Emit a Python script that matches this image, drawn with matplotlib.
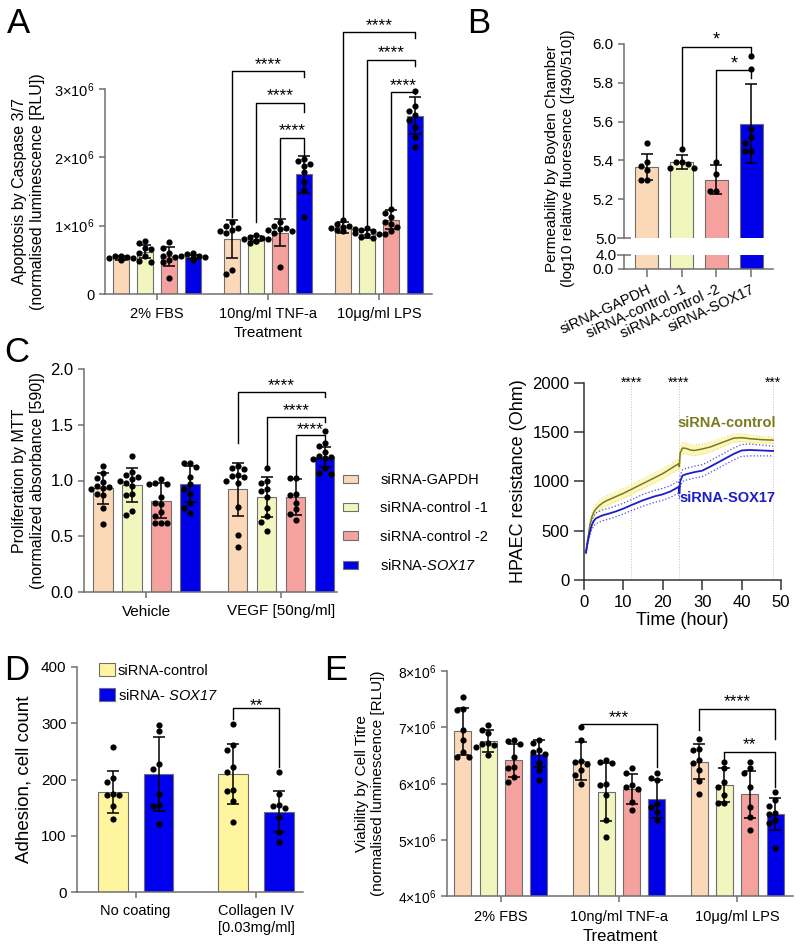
import numpy as np
import matplotlib
matplotlib.use('Agg')
import matplotlib.pyplot as plt
from matplotlib.patches import Patch

plt.rcParams['font.family'] = ['Liberation Sans', 'DejaVu Sans']
plt.rcParams['mathtext.fontset'] = 'custom'
plt.rcParams['mathtext.rm'] = 'Liberation Sans'
plt.rcParams['mathtext.it'] = 'Liberation Sans:italic'
plt.rcParams['mathtext.sf'] = 'Liberation Sans:italic'
plt.rcParams['mathtext.bf'] = 'Liberation Sans:bold'

# ---------------- data ----------------
sirna_labels = ['siRNA-GAPDH', 'siRNA-control -1', 'siRNA-control -2', 'siRNA-SOX17']
treatments = ['2% FBS', '10ng/ml TNF-a', '10\u03bcg/ml LPS']

# Panel A: apoptosis (x10^6 RLU) [treatment][siRNA]
A_mean = [[0.53, 0.62, 0.55, 0.54],
          [0.80, 0.81, 0.90, 1.75],
          [0.98, 0.88, 1.09, 2.61]]
A_sd = [[0.03, 0.10, 0.14, 0.03],
        [0.28, 0.04, 0.20, 0.27],
        [0.08, 0.06, 0.14, 0.27]]
A_points = [
    [[0.50, 0.51, 0.52, 0.53, 0.53, 0.54, 0.55, 0.56],
     [0.78, 0.74, 0.68, 0.66, 0.60, 0.55, 0.48, 0.47],
     [0.76, 0.68, 0.60, 0.56, 0.54, 0.50, 0.47, 0.24],
     [0.50, 0.52, 0.53, 0.54, 0.55, 0.56, 0.58, 0.60]],
    [[1.05, 0.99, 0.97, 0.94, 0.92, 0.90, 0.35, 0.30],
     [0.75, 0.77, 0.78, 0.80, 0.80, 0.82, 0.84, 0.86],
     [1.05, 1.00, 0.97, 0.95, 0.93, 0.92, 0.90, 0.40],
     [1.98, 1.95, 1.90, 1.88, 1.78, 1.64, 1.52, 1.13]],
    [[0.92, 0.94, 0.95, 0.96, 0.98, 1.00, 1.03, 1.08],
     [0.82, 0.84, 0.86, 0.88, 0.90, 0.92, 0.94, 0.96],
     [0.88, 0.92, 0.98, 1.02, 1.06, 1.12, 1.18, 1.25],
     [2.97, 2.75, 2.68, 2.62, 2.55, 2.45, 2.30, 2.15]]]
# (treatment, from, to, line y, left end, right end, label)
A_brackets = [(1, 0, 3, 3.26, 1.12, 3.17, '****'),
              (1, 1, 3, 2.80, 1.05, 2.66, '****'),
              (1, 2, 3, 2.29, 1.13, 2.02, '****'),
              (2, 0, 3, 3.83, 1.10, 3.75, '****'),
              (2, 1, 3, 3.43, 0.99, 3.33, '****'),
              (2, 2, 3, 2.96, 1.28, 2.93, '****')]

# Panel B: permeability (log10 RFU)
B_mean = [5.366, 5.39, 5.30, 5.59]
B_sd = [0.067, 0.036, 0.074, 0.205]
B_points = [[5.49, 5.39, 5.37, 5.35, 5.30, 5.30],
            [5.46, 5.39, 5.39, 5.38, 5.36, 5.36],
            [5.39, 5.33, 5.24, 5.24],
            [5.94, 5.87, 5.56, 5.52, 5.49, 5.45, 5.45]]
B_brackets = [(1, 3, 5.985, 5.47, 5.945, '*'),
              (2, 3, 5.865, 5.40, 5.825, '*')]

# Panel C (left): proliferation by MTT [treatment][siRNA]
C_treat = ['Vehicle', 'VEGF [50ng/ml]']
C_mean = [[0.93, 0.96, 0.82, 0.97],
          [0.92, 0.85, 0.85, 1.21]]
C_sd = [[0.14, 0.15, 0.16, 0.16],
        [0.24, 0.18, 0.16, 0.09]]
C_points = [
    [[1.13, 1.07, 1.02, 0.99, 0.95, 0.94, 0.93, 0.92, 0.88, 0.87, 0.75, 0.61],
     [1.22, 1.08, 1.05, 1.03, 1.01, 1.00, 0.98, 0.95, 0.88, 0.87, 0.73, 0.69],
     [1.01, 0.98, 0.97, 0.97, 0.85, 0.80, 0.79, 0.72, 0.68, 0.62, 0.62, 0.62],
     [1.16, 1.16, 1.12, 1.03, 0.97, 0.92, 0.88, 0.80, 0.75, 0.71]],
    [[1.13, 1.11, 1.10, 1.05, 1.04, 1.03, 1.00, 0.98, 0.76, 0.51, 0.40],
     [1.11, 1.00, 0.98, 0.92, 0.91, 0.85, 0.75, 0.68, 0.63, 0.55],
     [1.02, 1.02, 0.88, 0.87, 0.80, 0.74, 0.70, 0.65],
     [1.44, 1.34, 1.31, 1.26, 1.22, 1.21, 1.20, 1.19, 1.11, 1.07, 1.06]]]
C_brackets = [(1, 0, 3, 1.795, 1.335, 1.745, '****'),
              (1, 1, 3, 1.573, 1.125, 1.528, '****'),
              (1, 2, 3, 1.406, 1.036, 1.34, '****')]

# Panel C (right): HPAEC resistance (Ohm) over time
time_h = [0.5, 1, 1.5, 2, 2.5, 3, 4, 5, 6, 8, 10, 12, 15, 18, 20, 22, 24, 24.2, 24.4,
          25, 26, 27, 28, 30, 32, 35, 38, 40, 42, 45, 48]
ctrl_mean = [280, 420, 560, 640, 690, 720, 760, 790, 810, 845, 880, 920, 980, 1040, 1080,
             1130, 1180, 1150, 1290, 1340, 1335, 1320, 1315, 1330, 1350, 1395, 1440, 1445,
             1435, 1425, 1420]
ctrl_sem = [15, 25, 35, 45, 50, 50, 50, 50, 50, 50, 50, 50, 50, 50, 50, 50, 50, 50, 55,
            55, 55, 55, 55, 50, 50, 45, 40, 40, 40, 35, 35]
sox_mean = [280, 400, 490, 560, 600, 625, 645, 660, 670, 695, 725, 760, 810, 850, 870,
            900, 945, 880, 1000, 1060, 1075, 1085, 1095, 1110, 1150, 1215, 1280, 1315,
            1320, 1315, 1310]
sox_sem = [15, 25, 35, 45, 50, 55, 55, 55, 55, 55, 55, 55, 60, 60, 60, 60, 60, 60, 60,
           60, 60, 60, 60, 60, 60, 60, 60, 60, 60, 55, 50]
ts_marks = [12, 24, 48]
ts_labels = ['****', '****', '***']

# Panel D: adhesion [condition][siRNA-control, siRNA-SOX17]
D_cond = ['No coating', 'Collagen IV\n[0.03mg/ml]']
D_mean = [[178, 210], [210, 143]]
D_sd = [[38, 66], [54, 36]]
D_points = [[[258, 203, 196, 174, 173, 172, 153, 129],
             [297, 286, 227, 218, 174, 155, 153, 121]],
            [[298, 262, 253, 223, 214, 182, 180, 162, 125],
             [214, 175, 155, 153, 150, 134, 107, 89]]]
D_brackets = [(1, 0, 1, 327, 307, 223, '**')]

# Panel E: viability (x10^6 RLU) [treatment][siRNA]
E_mean = [[6.93, 6.76, 6.41, 6.53],
          [6.40, 5.85, 5.90, 5.73],
          [6.39, 5.97, 5.81, 5.46]]
E_sd = [[0.42, 0.20, 0.30, 0.24],
        [0.34, 0.52, 0.27, 0.34],
        [0.31, 0.30, 0.42, 0.29]]
E_points = [
    [[7.54, 7.32, 7.30, 6.95, 6.77, 6.56, 6.47, 6.47],
     [7.04, 6.96, 6.89, 6.72, 6.70, 6.68, 6.65, 6.50],
     [6.78, 6.76, 6.70, 6.47, 6.30, 6.28, 6.12, 6.03],
     [6.78, 6.72, 6.60, 6.56, 6.53, 6.36, 6.24, 6.06]],
    [[7.00, 6.77, 6.40, 6.38, 6.35, 6.24, 6.15, 6.00],
     [6.41, 6.38, 6.36, 6.00, 5.97, 5.80, 5.35, 5.05],
     [6.27, 6.18, 5.97, 5.94, 5.91, 5.67, 5.53],
     [6.18, 6.09, 6.06, 5.64, 5.58, 5.50, 5.35]],
    [[6.80, 6.62, 6.60, 6.41, 6.36, 6.24, 6.05, 5.82],
     [6.38, 6.27, 6.03, 5.94, 5.79, 5.66, 5.66],
     [6.38, 6.27, 6.18, 5.94, 5.59, 5.41, 5.17],
     [5.85, 5.70, 5.60, 5.47, 5.45, 5.35, 5.30, 4.86]]]
E_brackets = [(1, 0, 3, 7.05, 7.02, 6.30, '***'),
              (2, 0, 3, 7.33, 6.95, 6.80, '****'),
              (2, 1, 3, 6.56, 6.41, 5.94, '**')]

# ---------------- style ----------------
COLS4 = ['#FAD8B8', '#F1F6BE', '#F5A29E', '#0000E8']
COLS2 = ['#FFF59E', '#0000EE']
EDGE = '#6e6e6e'
SPINE = '#707070'

W, H = 800, 951
fig = plt.figure(figsize=(W / 100, H / 100), dpi=100)


def axes_px(left, top, right, bottom):
    return fig.add_axes([left / W, 1 - bottom / H, (right - left) / W, (bottom - top) / H])


def style(ax, color=SPINE, length=4):
    for s in ['top', 'right']:
        ax.spines[s].set_visible(False)
    for s in ['left', 'bottom']:
        ax.spines[s].set_color(color)
        ax.spines[s].set_linewidth(1.1)
    ax.tick_params(colors=color, labelcolor='black', width=1.1, length=length)


def px_per_unit(ax):
    bb = ax.get_window_extent()
    x0, x1 = ax.get_xlim()
    y0, y1 = ax.get_ylim()
    return bb.width / (x1 - x0), bb.height / (y1 - y0)


def swarm(vals, dx, dy):
    offs = np.zeros(len(vals))
    placed = []
    for k in np.argsort(vals)[::-1]:
        v = vals[k]
        chosen = 0
        for c in [0, -1, 1, -2, 2]:
            ok = all(not (abs(c * dx - ox) < dx * 0.95 and abs(v - ov) < dy) for ox, ov in placed)
            if ok:
                chosen = c
                break
        offs[k] = chosen * dx
        placed.append((chosen * dx, v))
    return offs


def draw_bars(ax, means, sds, pts, colors, gap, width, dot=6.0):
    pxx, pxy = px_per_unit(ax)
    for g in range(len(means)):
        for i in range(len(means[g])):
            x = g * gap + i
            ax.bar(x, means[g][i], width=width, color=colors[i], edgecolor=EDGE,
                   linewidth=0.8, zorder=1)
            ax.errorbar(x, means[g][i], yerr=sds[g][i], fmt='none', ecolor='black',
                        elinewidth=1.1, capsize=4, capthick=1.1, zorder=3)
            vals = np.asarray(pts[g][i], float)
            offs = swarm(vals, dot / pxx, dot / pxy)
            ax.scatter(x + offs, vals, s=20, color='black', zorder=4, linewidths=0,
                       clip_on=False)


def bracket(ax, x1, x2, y, y1, y2, label, fs=12.5, dy=1.5):
    ax.plot([x1, x1, x2, x2], [y1, y, y, y2], color='black', lw=1.0, clip_on=False,
            zorder=5)
    ax.annotate(label, xy=((x1 + x2) / 2, y), xytext=(0, dy), textcoords='offset points',
                ha='center', va='baseline', fontsize=fs, annotation_clip=False)


def sci_labels(vals):
    return ['0' if v == 0 else r'%d×10$^{6}$' % v for v in vals]


# ---------------- Panel A ----------------
gapA = 4.625
axA = axes_px(105, 89, 432, 294)
style(axA)
axA.set_xlim(-0.667, 2 * gapA + 3 + 0.71)
axA.set_ylim(0, 3)
draw_bars(axA, A_mean, A_sd, A_points, COLS4, gapA, 0.67)
for (g, a, b, y, y1, y2, lab) in A_brackets:
    bracket(axA, g * gapA + a, g * gapA + b, y, y1, y2, lab)
axA.set_yticks([0, 1, 2, 3])
axA.set_yticklabels(sci_labels([0, 1, 2, 3]), fontsize=10.5)
axA.set_xticks([g * gapA + 1.5 for g in range(3)])
axA.set_xticklabels(treatments, fontsize=10.5)
axA.tick_params(axis='x', pad=5)
axA.set_xlabel('Treatment', fontsize=11, labelpad=4)
axA.set_ylabel('Apoptosis by Caspase 3/7\n(normalised luminescence [RLU])', fontsize=11.5)
axA.yaxis.set_label_coords(-0.185, 0.5)

# ---------------- Panel B ----------------
axB = axes_px(624, 44, 773, 238)
axB2 = axes_px(624, 255, 773, 269)
for ax in (axB, axB2):
    style(ax)
    ax.set_xlim(-0.66, 3.63)
axB.spines['bottom'].set_visible(False)
axB.set_ylim(5.0, 6.0)
axB2.set_ylim(0, 4)
pxx, pxy = px_per_unit(axB)
xB = np.arange(len(B_mean))
for i in range(len(B_mean)):
    for ax in (axB, axB2):
        ax.bar(xB[i], B_mean[i], width=0.66, color=COLS4[i], edgecolor=EDGE, linewidth=0.8,
               zorder=1)
    axB.errorbar(xB[i], B_mean[i], yerr=B_sd[i], fmt='none', ecolor='black', elinewidth=1.1,
                 capsize=4, capthick=1.1, zorder=3)
    vals = np.asarray(B_points[i], float)
    axB.scatter(xB[i] + swarm(vals, 6.0 / pxx, 6.0 / pxy), vals, s=20, color='black',
                zorder=4, linewidths=0, clip_on=False)
for (a, b, y, y1, y2, lab) in B_brackets:
    bracket(axB, a, b, y, y1, y2, lab, fs=13, dy=1.5)
axB.set_xticks([])
axB.set_yticks([5.2, 5.4, 5.6, 5.8, 6.0])
axB.set_yticklabels(['5.2', '5.4', '5.6', '5.8', '6.0'], fontsize=11)
axB.set_yticks([5.0], minor=True)
axB.set_yticklabels(['5.0'], minor=True, fontsize=11)
axB.tick_params(which='minor', direction='inout', length=10, width=1.1, colors=SPINE,
                labelcolor='black', pad=0.5)
axB2.set_yticks([0])
axB2.set_yticklabels(['0.0'], fontsize=11)
axB2.set_yticks([4], minor=True)
axB2.set_yticklabels(['4.0'], minor=True, fontsize=11)
axB2.tick_params(which='minor', direction='inout', length=10, width=1.1, colors=SPINE,
                 labelcolor='black', pad=0.5)
axB2.set_xticks(xB)
axB2.set_xticklabels(sirna_labels, fontsize=10.5, rotation=25, ha='right',
                     rotation_mode='anchor')
axB2.tick_params(axis='x', length=6)
axB.set_ylabel('Permeability by Boyden Chamber\n(log10 relative fluoresence ([490/510])',
               fontsize=11)
axB.yaxis.set_label_coords(-0.33, 0.41)

# ---------------- Panel C left ----------------
gapC = 4.65
axC = axes_px(84, 369, 337, 592)
style(axC)
axC.set_xlim(-0.655, gapC + 3 + 0.42)
axC.set_ylim(0, 2)
draw_bars(axC, C_mean, C_sd, C_points, COLS4, gapC, 0.66)
for (g, a, b, y, y1, y2, lab) in C_brackets:
    bracket(axC, g * gapC + a, g * gapC + b, y, y1, y2, lab, dy=1.0)
axC.set_yticks([0, 0.5, 1.0, 1.5, 2.0])
axC.set_yticklabels(['0.0', '0.5', '1.0', '1.5', '2.0'], fontsize=12)
axC.set_xticks([g * gapC + 1.5 for g in range(2)])
axC.set_xticklabels(C_treat, fontsize=11)
axC.tick_params(axis='x', pad=5)
axC.set_ylabel('Proliferation by MTT\n(normalized absorbance [590])', fontsize=11.5)
axC.yaxis.set_label_coords(-0.155, 0.5)
handles = [Patch(facecolor=c, edgecolor=EDGE, linewidth=0.8) for c in COLS4]
leg_labels = ['siRNA-GAPDH', 'siRNA-control -1', 'siRNA-control -2', r'siRNA-$\mathsf{SOX17}$']
fig.legend(handles, leg_labels, loc='upper left', bbox_to_anchor=(343 / W, 1 - 473 / H),
           frameon=False, fontsize=10.5, handlelength=1.05, handleheight=0.5,
           handletextpad=1.5, labelspacing=0.98, borderpad=0, borderaxespad=0)

# ---------------- Panel C right ----------------
axT = axes_px(584, 383, 781, 580)
style(axT, color='#333333', length=7)
axT.set_xlim(0, 50)
axT.set_ylim(0, 2000)
t = np.asarray(time_h, float)
cm, cs = np.asarray(ctrl_mean, float), np.asarray(ctrl_sem, float)
sm, ss = np.asarray(sox_mean, float), np.asarray(sox_sem, float)
axT.fill_between(t, cm - cs, cm + cs, color='#FBF4A8', alpha=0.7, lw=0, zorder=1)
axT.plot(t, cm + cs, color='#EDE35A', lw=0.8, ls=':', zorder=2)
axT.plot(t, cm - cs, color='#EDE35A', lw=0.8, ls=':', zorder=2)
axT.plot(t, cm, color='#7A7A1E', lw=1.1, zorder=3)
axT.plot(t, sm + ss, color='#4B4BE6', lw=0.9, ls=':', zorder=2)
axT.plot(t, sm - ss, color='#4B4BE6', lw=0.9, ls=':', zorder=2)
axT.plot(t, sm, color='#1C1CC8', lw=1.3, zorder=3)
for xm, lab in zip(ts_marks, ts_labels):
    axT.axvline(xm, color='#C0C0C0', lw=0.7, ls=':', zorder=0)
    axT.text(xm, 1960, lab, ha='center', va='baseline', fontsize=10, clip_on=False)
axT.text(36.3, 1594, 'siRNA-control', color='#7A7A1E', fontsize=10.5, fontweight='bold',
         ha='center', va='center')
axT.text(36.3, 832, 'siRNA-SOX17', color='#1C1CC8', fontsize=10.5, fontweight='bold',
         ha='center', va='center')
axT.set_xticks([0, 10, 20, 30, 40, 50])
axT.set_yticks([0, 500, 1000, 1500, 2000])
axT.tick_params(labelsize=12)
axT.set_xlabel('Time (hour)', fontsize=13, labelpad=2)
axT.set_ylabel('HPAEC resistance (Ohm)', fontsize=13, labelpad=4)

# ---------------- Panel D ----------------
gapD = 2.63
axD = axes_px(77, 667, 303, 892)
style(axD)
axD.set_xlim(-0.78, gapD + 1 + 0.52)
axD.set_ylim(0, 400)
draw_bars(axD, D_mean, D_sd, D_points, COLS2, gapD, 0.65)
for (g, a, b, y, y1, y2, lab) in D_brackets:
    bracket(axD, g * gapD + a, g * gapD + b, y, y1, y2, lab, fs=12.5, dy=-1.5)
axD.set_yticks([0, 100, 200, 300, 400])
axD.set_yticklabels(['0', '100', '200', '300', '400'], fontsize=11)
axD.set_xticks([g * gapD + 0.5 for g in range(2)])
axD.set_xticklabels(D_cond, fontsize=10.5)
axD.tick_params(axis='x', pad=5)
axD.set_ylabel('Adhesion, cell count', fontsize=13.5, labelpad=6)
handlesD = [Patch(facecolor=c, edgecolor=EDGE, linewidth=0.8) for c in COLS2]
axD.legend(handlesD, ['siRNA-control', r'siRNA- $\mathsf{SOX17}$'], loc='upper left',
           bbox_to_anchor=(99 / W, 1 - 663 / H), bbox_transform=fig.transFigure,
           frameon=False, fontsize=10.5, handlelength=1.1, handleheight=1.0,
           handletextpad=0.2, labelspacing=0.7, borderpad=0, borderaxespad=0)

# ---------------- Panel E ----------------
gapE = 4.66
axE = axes_px(447, 671, 793, 896)
style(axE)
axE.set_xlim(-0.63, 2 * gapE + 3 + 0.71)
axE.set_ylim(4, 8)
draw_bars(axE, E_mean, E_sd, E_points, COLS4, gapE, 0.67)
for (g, a, b, y, y1, y2, lab) in E_brackets:
    bracket(axE, g * gapE + a, g * gapE + b, y, y1, y2, lab, dy=2.0)
axE.set_yticks([4, 5, 6, 7, 8])
axE.set_yticklabels(sci_labels([4, 5, 6, 7, 8]), fontsize=10)
axE.set_xticks([g * gapE + 1.5 for g in range(3)])
axE.set_xticklabels(treatments, fontsize=10.5)
axE.tick_params(axis='x', pad=6)
axE.set_xlabel('Treatment', fontsize=12, labelpad=4)
axE.set_ylabel('Viability by Cell Titre\n(normalised luminescence [RLU])', fontsize=11)
axE.yaxis.set_label_coords(-0.18, 0.5)

# ---------------- panel letters ----------------
for lab, x, y in [('A', 7, 33), ('B', 467, 33), ('C', 4, 362), ('D', 4, 680),
                  ('E', 324, 680)]:
    fig.text(x / W, 1 - y / H, lab, fontsize=25, ha='left', va='baseline')

fig.savefig('out.png', dpi=100)
